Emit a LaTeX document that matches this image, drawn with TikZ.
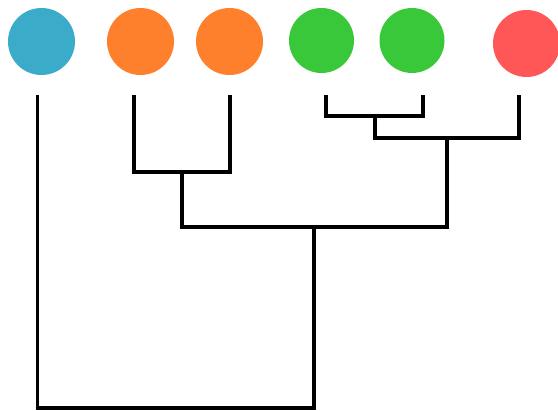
\documentclass[tikz,border=0pt]{standalone}
\usepackage{tikz}
\usepackage{xcolor}

\definecolor{leafblue}{RGB}{58,172,201}
\definecolor{leaforange}{RGB}{255,128,44}
\definecolor{leafgreen}{RGB}{57,200,57}
\definecolor{leafred}{RGB}{255,87,87}

\begin{document}
\begin{tikzpicture}[x=1pt,y=-1pt,
        leaf/.style={circle,inner sep=0pt,minimum size=67pt},
        branch/.style={line width=3.6pt,line join=miter}]
        \useasboundingbox (0,0) rectangle (558,411);

        \node (blue) [leaf,fill=leafblue] at (41.5,41.5) {};
        \node (orangeA) [leaf,fill=leaforange] at (140.5,41.5) {};
        \node (orangeB) [leaf,fill=leaforange] at (229.5,41.5) {};
        \node (greenA) [leaf,fill=leafgreen,minimum size=65pt] at (321.5,40.5) {};
        \node (greenB) [leaf,fill=leafgreen,minimum size=65pt] at (412,40.5) {};
        \node (red) [leaf,fill=leafred] at (526.5,43.5) {};

        % leaf tops
        \coordinate (tblue) at (37.5,95);
        \coordinate (torangeA) at (134,95);
        \coordinate (torangeB) at (230,95);
        \coordinate (tgreenA) at (326,95);
        \coordinate (tgreenB) at (423,95);
        \coordinate (tred) at (519,95);

        % merges
        \coordinate (orange) at (182,172);
        \coordinate (green) at (375,116);
        \coordinate (greenred) at (447,138);
        \coordinate (warm) at (314,227);
        \coordinate (all) at (176,408);

        \draw[branch] (torangeA) |- (orange) -| (torangeB);
        \draw[branch] (tgreenA) |- (green) -| (tgreenB);
        \draw[branch] (green) |- (greenred) -| (tred);
        \draw[branch] (orange) |- (warm) -| (greenred);
        \draw[branch] (tblue) |- (all) -| (warm);
    \end{tikzpicture}
\end{document}
